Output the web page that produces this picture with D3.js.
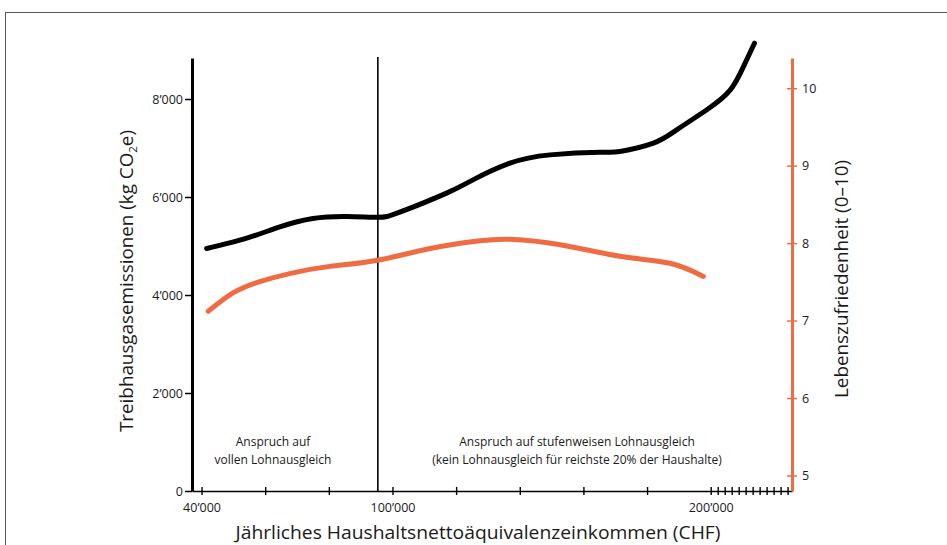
<!DOCTYPE html>
<html>
<head>
<meta charset="utf-8">
<script src="https://cdn.jsdelivr.net/npm/d3@7"></script>
<style>
  body { margin: 0; background: #fff; }
  text { font-family: "Open Sans", "Noto Sans", sans-serif; fill: #1a1a1a; }
</style>
</head>
<body>
<svg id="chart"></svg>
<script>
// Income (CHF) vs. emissions and life satisfaction

// x axis ticks: every 20'000, compressed after 200'000
const incomeTicks = [40000, 60000, 80000, 100000, 120000, 140000, 160000, 180000, 200000,
  220000, 240000, 260000, 280000, 300000, 320000, 340000, 360000, 380000, 400000, 420000];
const incomeTickLabels = { 40000: '40’000', 100000: '100’000', 200000: '200’000' };

const emissionTicks = [0, 2000, 4000, 6000, 8000];
const satisfactionTicks = [5, 6, 7, 8, 9, 10];

// black line: greenhouse gas emissions (kg CO2e)
const emissionIncome = [41600, 54200, 64600, 75000, 85600, 95400, 102300, 117000, 125300,
  136900, 149500, 165200, 171500, 182000, 189300, 198800, 255500, 293700, 325300];
const emissionValues = [4950, 5160, 5390, 5560, 5600, 5585, 5690, 6080, 6350,
  6690, 6860, 6915, 6930, 7100, 7370, 7780, 8180, 8660, 9140];

// orange line: life satisfaction (0-10)
const satisfactionIncome = [42100, 50000, 58000, 68000, 80300, 95400, 111800, 127500, 136900,
  152700, 171500, 187200, 197700];
const satisfactionValues = [7.12, 7.36, 7.50, 7.61, 7.70, 7.78, 7.93, 8.03, 8.05,
  7.98, 7.83, 7.74, 7.57];

const thresholdIncome = 95400;

class IncomeChart {
  constructor(_config) {
    this.config = {
      parentElement: _config.parentElement,
      containerWidth: 947,
      containerHeight: 545,
      margin: { top: 58, right: 155, bottom: 54, left: 192 },
      orange: '#ef6c43',
    };
    this.initVis();
  }

  initVis() {
    const vis = this;
    vis.width = vis.config.containerWidth - vis.config.margin.left - vis.config.margin.right;
    vis.height = vis.config.containerHeight - vis.config.margin.top - vis.config.margin.bottom;

    vis.svg = d3.select(vis.config.parentElement)
      .attr('width', vis.config.containerWidth)
      .attr('height', vis.config.containerHeight);

    // frame round the figure (runs off the right and bottom edge)
    vis.svg.append('rect')
      .attr('x', 5.5).attr('y', 12.5)
      .attr('width', 1200).attr('height', 1200)
      .attr('fill', 'none')
      .attr('stroke', '#555')
      .attr('stroke-width', 1);

    vis.chart = vis.svg.append('g')
      .attr('transform', `translate(${vis.config.margin.left},${vis.config.margin.top})`);

    // piecewise scale: linear up to 200'000, squeezed afterwards
    vis.xScale = d3.scaleLinear()
      .domain([37000, 200000, 432600])
      .range([0, 518.7, vis.width]);

    vis.yScale = d3.scaleLinear()
      .domain([0, 8837])
      .range([vis.height, 0]);

    vis.ySatScale = d3.scaleLinear()
      .domain([4.8, 10.39])
      .range([vis.height, 0]);

    vis.renderVis();
  }

  renderVis() {
    const vis = this;
    const orange = vis.config.orange;

    // x axis (ticks cross the line)
    const xAxisG = vis.chart.append('g')
      .attr('transform', `translate(0,${vis.height})`)
      .call(d3.axisBottom(vis.xScale)
        .tickValues(incomeTicks)
        .tickSize(0)
        .tickPadding(12)
        .tickFormat((d) => incomeTickLabels[d] || ''));
    xAxisG.select('.domain').attr('stroke', '#000').attr('stroke-width', 1.6);
    xAxisG.selectAll('.tick line')
      .attr('y1', -4).attr('y2', 4)
      .attr('stroke', '#000').attr('stroke-width', 1.4);
    xAxisG.selectAll('.tick text')
      .attr('font-size', 12.5).attr('fill', '#1a1a1a');
    xAxisG.attr('font-family', null);

    // left axis
    const yAxisG = vis.chart.append('g')
      .call(d3.axisLeft(vis.yScale)
        .tickValues(emissionTicks)
        .tickSize(7)
        .tickPadding(2)
        .tickSizeOuter(0)
        .tickFormat((d) => (d === 0 ? '0' : d3.format(',')(d).replace(',', '’'))));
    yAxisG.select('.domain').attr('stroke', '#000').attr('stroke-width', 3);
    yAxisG.selectAll('.tick line').attr('stroke', '#000').attr('stroke-width', 1.5);
    yAxisG.selectAll('.tick text').attr('font-size', 12.5).attr('fill', '#1a1a1a');
    yAxisG.attr('font-family', null);

    // right axis (orange, ticks cross the line)
    const ySatAxisG = vis.chart.append('g')
      .attr('transform', `translate(${vis.width},0)`)
      .call(d3.axisRight(vis.ySatScale)
        .tickValues(satisfactionTicks)
        .tickSize(5)
        .tickPadding(5)
        .tickSizeOuter(0)
        .tickFormat(d3.format('d')));
    ySatAxisG.select('.domain').attr('stroke', orange).attr('stroke-width', 3);
    ySatAxisG.selectAll('.tick line')
      .attr('x1', -5).attr('x2', 5)
      .attr('stroke', orange).attr('stroke-width', 1.5);
    ySatAxisG.selectAll('.tick text').attr('font-size', 12.5).attr('fill', '#1a1a1a');
    ySatAxisG.attr('font-family', null);

    // threshold line
    vis.chart.append('line')
      .attr('x1', vis.xScale(thresholdIncome))
      .attr('x2', vis.xScale(thresholdIncome))
      .attr('y1', -1)
      .attr('y2', vis.height)
      .attr('stroke', '#000')
      .attr('stroke-width', 1.6);

    // lines
    const emissionLine = d3.line()
      .x((d) => vis.xScale(d[0]))
      .y((d) => vis.yScale(d[1]))
      .curve(d3.curveNatural);

    const satisfactionLine = d3.line()
      .x((d) => vis.xScale(d[0]))
      .y((d) => vis.ySatScale(d[1]))
      .curve(d3.curveNatural);

    vis.chart.append('path')
      .datum(d3.zip(satisfactionIncome, satisfactionValues))
      .attr('d', satisfactionLine)
      .attr('fill', 'none')
      .attr('stroke', orange)
      .attr('stroke-width', 5)
      .attr('stroke-linecap', 'round');

    vis.chart.append('path')
      .datum(d3.zip(emissionIncome, emissionValues))
      .attr('d', emissionLine)
      .attr('fill', 'none')
      .attr('stroke', '#000')
      .attr('stroke-width', 5)
      .attr('stroke-linecap', 'round');

    // region labels
    const notes = [
      { x: 273, lines: ['Anspruch auf', 'vollen Lohnausgleich'] },
      { x: 577, lines: ['Anspruch auf stufenweisen Lohnausgleich', '(kein Lohnausgleich für reichste 20% der Haushalte)'] },
    ];
    notes.forEach((n) => {
      const t = vis.svg.append('text')
        .attr('text-anchor', 'middle')
        .attr('font-size', 12);
      n.lines.forEach((l, i) => {
        t.append('tspan')
          .attr('x', n.x)
          .attr('y', 446 + i * 18)
          .text(l);
      });
    });

    // axis titles
    vis.svg.append('text')
      .attr('x', 478)
      .attr('y', 539)
      .attr('text-anchor', 'middle')
      .attr('font-size', 19)
      .attr('textLength', 485)
      .attr('lengthAdjust', 'spacingAndGlyphs')
      .text('Jährliches Haushaltsnettoäquivalenzeinkommen (CHF)');

    const leftTitle = vis.svg.append('text')
      .attr('transform', 'translate(133,281) rotate(-90)')
      .attr('text-anchor', 'middle')
      .attr('font-size', 18)
      .attr('textLength', 302)
      .attr('lengthAdjust', 'spacingAndGlyphs');
    leftTitle.append('tspan').text('Treibhausgasemissionen (kg CO');
    leftTitle.append('tspan').attr('font-size', 11).attr('dy', 4).text('2');
    leftTitle.append('tspan').attr('dy', -4).text('e)');

    vis.svg.append('text')
      .attr('transform', 'translate(848,279) rotate(-90)')
      .attr('text-anchor', 'middle')
      .attr('font-size', 18)
      .attr('textLength', 238)
      .attr('lengthAdjust', 'spacingAndGlyphs')
      .text('Lebenszufriedenheit (0–10)');
  }
}

const incomeChart = new IncomeChart({ parentElement: '#chart' });
</script>
</body>
</html>
